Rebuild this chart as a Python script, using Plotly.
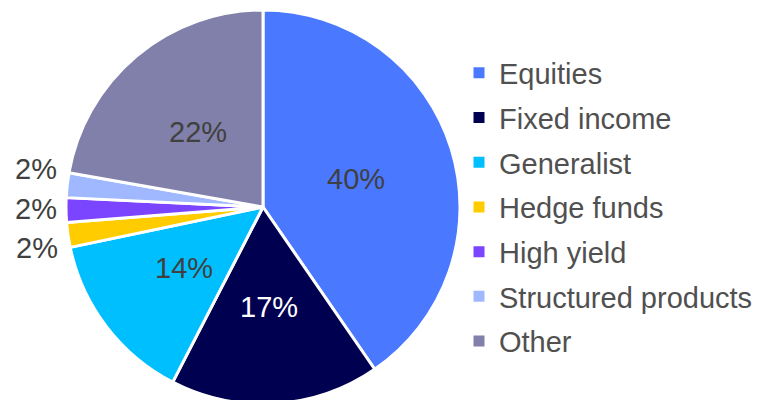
import plotly.graph_objects as go

categories = ["Equities", "Fixed income", "Generalist", "Hedge funds",
              "High yield", "Structured products", "Other"]
values = [40, 17, 14, 2, 2, 2, 22]
colors = ["#4A78FF", "#000050", "#00BFFF", "#FFCC00", "#7B45FF", "#A0B8FF", "#8080AA"]
text_colors = ["#404040", "#FFFFFF", "#404040", "#404040", "#404040", "#404040", "#404040"]
# data-label anchors (figure px), as placed in the original chart
label_pos = [(348, 170.5), (260.5, 298.5), (176, 259.5), (29, 240),
             (28, 201), (28, 161), (189.5, 123.5)]

FONT = "Liberation Sans, Arial"
FS = 29
W, H, T, B = 764, 400, 2, 4
plot_h = H - T - B
r = plot_h / 2
cx = 255

fig = go.Figure()
fig.add_trace(go.Pie(
    labels=categories,
    values=values,
    sort=False,
    direction="clockwise",
    rotation=0,
    marker=dict(colors=colors, line=dict(color="#FFFFFF", width=3)),
    textinfo="none",
    hoverinfo="label+percent",
    showlegend=False,
    domain=dict(x=[(cx - r) / W, (cx + r) / W], y=[0, 1]),
))

# legend entries
for i, (cat, col) in enumerate(zip(categories, colors)):
    fig.add_trace(go.Scatter(
        x=[None], y=[None], mode="markers", name=cat,
        legendgroup=f"g{i}",
        marker=dict(symbol="square", size=11, color=col),
        hoverinfo="skip",
    ))

# data labels
for val, (px, py), tc in zip(values, label_pos, text_colors):
    fig.add_annotation(
        x=px / W, y=1 - (py - T) / plot_h, xref="paper", yref="paper",
        text=f"{val}%", showarrow=False,
        font=dict(family=FONT, size=FS, color=tc),
        xanchor="center", yanchor="middle",
    )

fig.update_layout(
    width=W, height=H,
    margin=dict(l=0, r=0, t=T, b=B),
    paper_bgcolor="#FFFFFF",
    plot_bgcolor="#FFFFFF",
    xaxis=dict(visible=False),
    yaxis=dict(visible=False),
    showlegend=True,
    legend=dict(
        x=451 / W, y=0.50, xanchor="left", yanchor="middle",
        traceorder="grouped", tracegroupgap=4,
        font=dict(family=FONT, size=FS, color="#505050"),
        bgcolor="rgba(0,0,0,0)",
    ),
)

fig.write_html("out.html")
